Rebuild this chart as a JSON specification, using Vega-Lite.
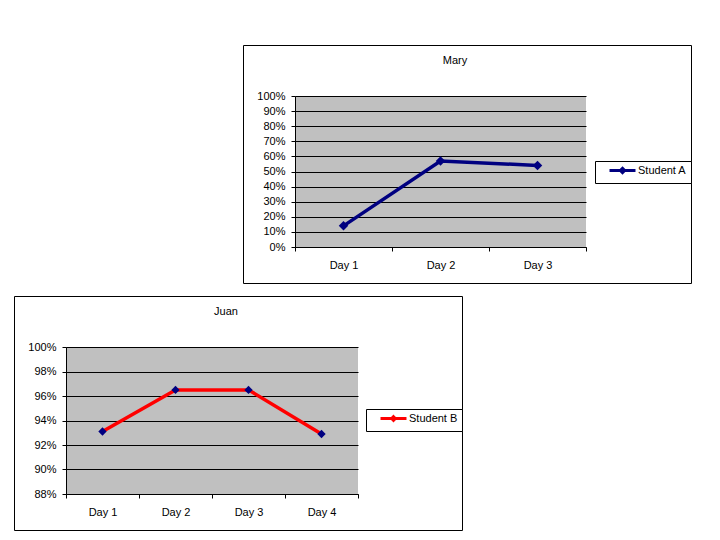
{
  "$schema": "https://vega.github.io/schema/vega-lite/v6.json",
  "padding": {"left": 13, "top": 44, "right": 0, "bottom": 0},
  "background": "white",
  "spacing": 11,
  "resolve": {"scale": {"color": "independent"}, "legend": {"color": "independent"}},
  "config": {
    "font": "Liberation Sans",
    "view": {"stroke": "black", "strokeWidth": 1, "fill": "white"},
    "axis": {"labelFont": "Liberation Sans", "labelFontSize": 11, "labelColor": "black", "domainColor": "black", "domainWidth": 1, "tickColor": "black", "tickWidth": 1, "title": null, "labelOverlap": false},
    "title": {"font": "Liberation Sans", "fontSize": 11, "fontWeight": "normal", "color": "black"}
  },
  "vconcat": [
    {
      "spacing": 10,
      "resolve": {"scale": {"color": "independent"}, "legend": {"color": "independent"}},
      "hconcat": [
        {
          "width": 218, "height": 10,
          "view": {"stroke": null, "fill": null},
          "data": {"values": []},
          "mark": {"type": "point", "opacity": 0},
          "encoding": {}
        },
        {
          "width": 448, "height": 238,
          "title": {"text": "Mary", "offset": -30, "baseline": "alphabetic", "dx": -12, "anchor": "middle", "frame": "group"},
          "data": {"values": [
            {"day": "Day 1", "score": 0.14, "series": "Student A"},
            {"day": "Day 2", "score": 0.57, "series": "Student A"},
            {"day": "Day 3", "score": 0.54, "series": "Student A"}
          ]},
          "encoding": {
            "x": {"field": "day", "type": "nominal", "sort": null,
              "scale": {"type": "band", "range": [52, 343], "padding": 0},
              "axis": {"orient": "bottom", "offset": -36, "tickBand": "extent", "tickSize": 4, "labelPadding": 8, "labelAngle": 0, "grid": false}},
            "y": {"field": "score", "type": "quantitative",
              "scale": {"domain": [0, 1], "range": [202, 51], "nice": false, "zero": false},
              "axis": {"orient": "left", "offset": -52, "values": [0, 0.1, 0.2, 0.3, 0.4, 0.5, 0.6, 0.7, 0.8, 0.9, 1], "format": ".0%", "grid": true, "gridColor": "black", "gridWidth": 1, "gridOpacity": 1, "tickSize": 4, "labelPadding": 6, "labelOverlap": false}}
          },
          "layer": [
            {
              "mark": {"type": "rect", "fill": "black", "fillOpacity": 0.247, "strokeWidth": 0},
              "encoding": {
                "y": {"datum": 0, "type": "quantitative"},
                "y2": {"datum": 1}
              }
            },
            {
              "mark": {"type": "line", "strokeWidth": 3.5},
              "encoding": {
                "color": {"field": "series", "type": "nominal",
                  "scale": {"domain": ["Student A"], "range": ["#000080"]},
                  "legend": {"title": null, "orient": "none", "legendX": 352, "legendY": 116, "strokeColor": "black", "fillColor": "white", "padding": 4, "cornerRadius": 0,
                    "symbolType": "M1.67,0H10.33M6,-0.7L6.7,0L6,0.7L5.3,0Z", "symbolSize": 36, "symbolStrokeWidth": 3, "symbolFillColor": "#000080",
                    "labelOffset": 28, "labelFontSize": 11, "labelFont": "Liberation Sans", "labelColor": "black"}}
              }
            },
            {
              "mark": {"type": "point", "shape": "diamond", "filled": true, "size": 90, "color": "#000080", "opacity": 1},
              "encoding": {}
            }
          ]
        }
      ]
    },
    {
      "width": 448, "height": 234,
      "title": {"text": "Juan", "offset": -30, "baseline": "alphabetic", "dx": -12, "anchor": "middle", "frame": "group"},
      "data": {"values": [
        {"day": "Day 1", "score": 0.931, "series": "Student B"},
        {"day": "Day 2", "score": 0.965, "series": "Student B"},
        {"day": "Day 3", "score": 0.965, "series": "Student B"},
        {"day": "Day 4", "score": 0.929, "series": "Student B"}
      ]},
      "encoding": {
        "x": {"field": "day", "type": "nominal", "sort": null,
          "scale": {"type": "band", "range": [52, 344], "padding": 0},
          "axis": {"orient": "bottom", "offset": -36, "tickBand": "extent", "tickSize": 4, "labelPadding": 8, "labelAngle": 0, "grid": false}},
        "y": {"field": "score", "type": "quantitative",
          "scale": {"domain": [0.88, 1], "range": [198, 51], "nice": false, "zero": false},
          "axis": {"orient": "left", "offset": -52, "values": [0.88, 0.9, 0.92, 0.94, 0.96, 0.98, 1], "format": ".0%", "grid": true, "gridColor": "black", "gridWidth": 1, "gridOpacity": 1, "tickSize": 4, "labelPadding": 6, "labelOverlap": false}}
      },
      "layer": [
        {
          "mark": {"type": "rect", "fill": "black", "fillOpacity": 0.247, "strokeWidth": 0},
          "encoding": {
            "y": {"datum": 0.88, "type": "quantitative"},
            "y2": {"datum": 1}
          }
        },
        {
          "mark": {"type": "line", "strokeWidth": 3.5},
          "encoding": {
            "color": {"field": "series", "type": "nominal",
              "scale": {"domain": ["Student B"], "range": ["#ff0000"]},
              "legend": {"title": null, "orient": "none", "legendX": 352, "legendY": 113, "strokeColor": "black", "fillColor": "white", "padding": 4, "cornerRadius": 0,
                "symbolType": "M1.67,0H10.33M6,-0.6L6.6,0L6,0.6L5.4,0Z", "symbolSize": 36, "symbolStrokeWidth": 3, "symbolFillColor": "#000080",
                "labelOffset": 28, "labelFontSize": 11, "labelFont": "Liberation Sans", "labelColor": "black"}}
          }
        },
        {
          "mark": {"type": "point", "shape": "diamond", "filled": true, "size": 70, "color": "#000080", "opacity": 1},
          "encoding": {}
        }
      ]
    }
  ]
}
